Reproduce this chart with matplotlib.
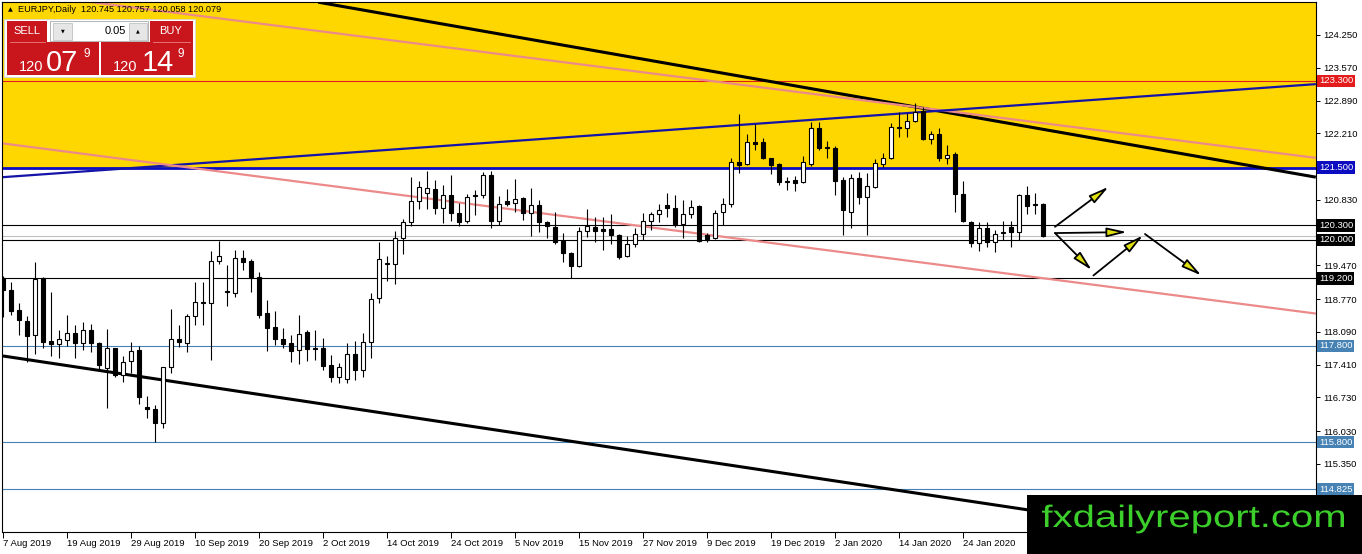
import numpy as np
import matplotlib
matplotlib.use("Agg")
import matplotlib.pyplot as plt
from matplotlib.patches import Rectangle, FancyArrowPatch, PathPatch
from matplotlib.textpath import TextPath
from matplotlib.font_manager import FontProperties
from matplotlib.transforms import Affine2D

plt.rcParams['font.family'] = ['Liberation Sans', 'DejaVu Sans']

# EURJPY daily bars, oldest first
opens = [119.21, 118.96, 118.55, 118.32, 118.03, 119.20, 117.90, 117.83, 117.92, 118.06,
         117.85, 118.12, 117.85, 117.35, 117.75, 117.20, 117.49, 117.71, 116.54, 116.49,
         116.19, 117.36, 117.94, 117.85, 118.42, 118.72, 118.68, 119.56, 118.94, 118.89,
         119.63, 119.56, 119.22, 118.49, 118.19, 117.94, 117.85, 117.71, 118.09, 117.76,
         117.76, 117.40, 117.15, 117.11, 117.63, 117.29, 117.87, 118.79, 119.49, 119.49,
         120.03, 120.36, 120.81, 120.97, 121.05, 120.65, 120.94, 120.55, 120.38, 120.93,
         120.93, 121.35, 120.40, 120.81, 120.76, 120.86, 120.55, 120.72, 120.36, 120.27,
         119.98, 119.72, 119.46, 120.18, 120.27, 120.22, 120.22, 120.10, 119.67, 119.91,
         120.12, 120.40, 120.53, 120.72, 120.67, 120.32, 120.53, 120.70, 120.09, 120.03,
         120.57, 120.74, 121.61, 121.57, 122.03, 122.03, 121.69, 121.57, 121.19, 121.24,
         121.19, 121.57, 122.31, 121.93, 121.91, 121.24, 120.58, 121.28, 120.88, 121.10,
         121.58, 121.69, 122.35, 122.33, 122.47, 122.67, 122.09, 122.19, 121.69, 121.79,
         120.96, 120.36, 119.93, 120.24, 119.96, 120.15, 120.27, 120.17, 120.92, 120.74,
         120.745]
highs = [119.25, 119.13, 118.68, 118.41, 119.55, 119.23, 118.92, 118.13, 118.44, 118.23,
         118.29, 118.25, 117.87, 118.14, 117.76, 117.58, 117.87, 117.80, 116.75, 116.57,
         117.37, 118.57, 118.23, 118.46, 119.13, 119.13, 119.77, 119.98, 119.48, 119.79,
         119.79, 119.60, 119.33, 118.75, 118.52, 118.17, 118.03, 118.44, 118.13, 118.13,
         117.96, 117.60, 117.45, 117.85, 117.90, 118.06, 118.90, 119.96, 119.67, 120.18,
         120.43, 121.30, 121.21, 121.43, 121.24, 121.14, 121.35, 120.77, 120.95, 121.03,
         121.40, 121.43, 120.91, 121.06, 121.26, 120.88, 121.08, 120.83, 120.39, 120.58,
         120.15, 119.75, 120.27, 120.64, 120.48, 120.48, 120.53, 120.13, 120.08, 120.24,
         120.55, 120.58, 120.74, 120.97, 120.93, 120.83, 120.83, 120.72, 120.14, 120.62,
         120.87, 121.69, 122.60, 122.19, 122.40, 122.12, 121.69, 121.59, 121.31, 121.33,
         121.74, 122.45, 122.44, 122.04, 121.95, 121.31, 121.36, 121.40, 121.38, 121.67,
         121.81, 122.42, 122.66, 122.63, 122.83, 122.76, 122.26, 122.33, 121.97, 121.82,
         121.22, 120.38, 120.36, 120.36, 120.20, 120.38, 120.38, 120.95, 121.12, 120.97,
         120.757]
lows = [118.40, 118.44, 118.03, 117.47, 117.64, 117.75, 117.58, 117.54, 117.80, 117.54,
        117.71, 117.68, 117.27, 116.52, 117.16, 117.06, 117.23, 116.59, 116.31, 115.81,
        116.09, 117.23, 117.77, 117.68, 118.23, 118.23, 117.51, 119.49, 118.63, 118.82,
        119.38, 118.91, 118.38, 117.69, 117.82, 117.75, 117.47, 117.42, 117.49, 117.51,
        117.29, 117.04, 117.02, 117.02, 117.09, 117.16, 117.54, 118.68, 119.15, 119.08,
        119.70, 120.29, 120.63, 120.63, 120.53, 120.34, 120.38, 120.29, 120.34, 120.51,
        120.86, 120.24, 120.31, 120.71, 120.58, 120.41, 120.08, 120.17, 120.03, 119.91,
        119.53, 119.20, 119.44, 120.06, 119.95, 119.79, 119.91, 119.60, 119.65, 119.86,
        119.99, 120.20, 120.36, 120.48, 120.27, 120.04, 120.45, 119.96, 119.95, 120.02,
        120.31, 120.69, 121.39, 121.55, 121.86, 121.67, 121.37, 121.14, 121.03, 121.02,
        121.17, 121.54, 121.86, 121.69, 120.93, 120.11, 120.24, 120.74, 120.11, 121.07,
        121.52, 121.68, 122.14, 122.14, 122.45, 122.07, 121.98, 121.64, 121.57, 120.58,
        120.36, 119.86, 119.77, 119.86, 119.74, 120.00, 119.86, 120.00, 120.53, 120.54,
        120.058]
closes = [118.96, 118.53, 118.33, 118.01, 119.18, 117.89, 117.83, 117.94, 118.06, 117.85,
          118.12, 117.85, 117.40, 117.75, 117.20, 117.47, 117.70, 116.73, 116.48, 116.19,
          117.36, 117.94, 117.87, 118.42, 118.70, 118.68, 119.56, 119.66, 118.91, 119.63,
          119.55, 119.22, 118.44, 118.18, 117.94, 117.84, 117.70, 118.04, 117.73, 117.73,
          117.39, 117.16, 117.36, 117.63, 117.29, 117.87, 118.77, 119.60, 119.51, 120.03,
          120.36, 120.81, 121.09, 121.07, 120.65, 120.94, 120.55, 120.36, 120.88, 120.90,
          121.35, 120.40, 120.74, 120.74, 120.85, 120.55, 120.72, 120.36, 120.29, 119.96,
          119.72, 119.46, 120.18, 120.29, 120.19, 120.19, 120.09, 119.65, 119.91, 120.12,
          120.40, 120.54, 120.61, 120.67, 120.32, 120.53, 120.69, 119.98, 120.02, 120.56,
          120.74, 121.62, 121.55, 122.02, 121.99, 121.69, 121.55, 121.19, 121.23, 121.17,
          121.61, 122.31, 121.90, 121.90, 121.23, 120.61, 121.28, 120.88, 121.12, 121.59,
          121.69, 122.35, 122.31, 122.47, 122.65, 122.09, 122.19, 121.69, 121.77, 120.96,
          120.38, 119.93, 120.24, 119.96, 120.13, 120.16, 120.17, 120.92, 120.71, 120.73,
          120.079]

date_labels = ["7 Aug 2019", "19 Aug 2019", "29 Aug 2019", "10 Sep 2019", "20 Sep 2019",
               "2 Oct 2019", "14 Oct 2019", "24 Oct 2019", "5 Nov 2019", "15 Nov 2019",
               "27 Nov 2019", "9 Dec 2019", "19 Dec 2019", "2 Jan 2020", "14 Jan 2020",
               "24 Jan 2020"]
bars_per_label = 8

price_ticks = [124.25, 123.57, 122.89, 122.21, 120.83, 119.47, 118.77, 118.09,
               117.41, 116.73, 116.03, 115.35]

# horizontal levels drawn on the chart
levels = [123.3, 121.5, 120.3, 120.0, 119.2, 117.8, 115.8, 114.825]
level_colors = ["#e41b1b", "#0c0cc0", "black", "black", "black", "#4682b4", "#4682b4", "#4682b4"]
level_widths = [0.8, 2.0, 0.8, 0.8, 0.8, 0.8, 0.8, 0.8]
bid = 120.079
zone_bottom = 121.5

# trend lines as (bar, price) end points
black_upper = [(39.4, 124.93), (164.1, 121.30)]
pink_upper = [(8.75, 124.98), (164.1, 121.70)]
blue_rising = [(0.0, 121.30), (164.1, 123.23)]
pink_lower = [(0.0, 122.00), (164.1, 118.47)]
black_lower = [(0.0, 117.59), (130.0, 114.35)]

# projected path arrows (bar, price) -> (bar, price)
arrows = [((131.5, 120.27), (138.2, 121.10)),
          ((131.5, 120.14), (140.5, 120.16)),
          ((131.5, 120.14), (136.1, 119.37)),
          ((136.3, 119.26), (142.5, 120.09)),
          ((142.75, 120.12), (149.8, 119.26))]

W, H = 1362, 554
fig = plt.figure(figsize=(W / 100, H / 100), dpi=100)
fig.patch.set_facecolor("white")
ax = fig.add_axes([2 / W, 22 / H, 1314 / W, 530 / H])
ax.set_xlim(-0.125, 164.125)
ax.set_ylim(113.938, 124.934)

ax.axhspan(zone_bottom, 130, color="#ffd700", zorder=0.5, lw=0)

for lv, c, w in zip(levels, level_colors, level_widths):
    ax.axhline(lv, color=c, lw=w, zorder=1)
ax.axhline(bid, color="#c0c0c0", lw=0.8, zorder=1)

for line, c, w in [(black_upper, "black", 2.2), (pink_upper, "#ec8a8a", 1.6),
                   (blue_rising, "#1414a8", 1.6), (pink_lower, "#ec8a8a", 1.6),
                   (black_lower, "black", 2.2)]:
    xs = [p[0] for p in line]
    ys = [p[1] for p in line]
    ax.plot(xs, ys, color=c, lw=w, zorder=2, solid_capstyle="butt")

x = np.arange(len(opens))
o = np.array(opens)
c = np.array(closes)
ax.vlines(x, lows, highs, color="black", lw=0.8, zorder=3)
up = c >= o
body_h = np.abs(c - o)
ax.bar(x, body_h, bottom=np.minimum(o, c), width=0.62,
       color=np.where(up, "white", "black"), edgecolor="black", lw=0.8, zorder=4)

for start, end in arrows:
    ax.add_patch(FancyArrowPatch(start, end, arrowstyle="-|>,head_length=1.2,head_width=0.28",
                                 mutation_scale=10, lw=1.3, fc="#e0e010", ec="black",
                                 zorder=5, shrinkA=0, shrinkB=0))

# axes, ticks
for s in ax.spines.values():
    s.set_color("black")
    s.set_linewidth(0.8)
ax.yaxis.tick_right()
ax.set_yticks(price_ticks)
ax.set_yticklabels([f"{t:.3f}" for t in price_ticks])
ax.tick_params(axis="y", direction="out", length=3, width=0.7, pad=2, labelsize=6.8)
ax.set_xticks(np.arange(len(date_labels)) * bars_per_label)
ax.set_xticklabels(date_labels)
ax.tick_params(axis="x", direction="out", length=4, width=0.7, pad=1, labelsize=6.8)
plt.setp(ax.get_xticklabels(), ha="left")

for lv, col in zip(levels, level_colors):
    txt = f"{lv:.3f}"
    ax.annotate(txt, xy=(1, lv), xycoords=("axes fraction", "data"), xytext=(3, 0),
                textcoords="offset pixels", va="center", ha="left", fontsize=6.8,
                color="white", annotation_clip=False, zorder=6,
                bbox=dict(boxstyle="square,pad=0.18", fc=col, ec="none"))

# overlay: header, one-click panel, watermark (pixel coordinates)
ov = fig.add_axes([0, 0, 1, 1], zorder=10)
ov.set_xlim(0, W)
ov.set_ylim(H, 0)
ov.axis("off")
ov.patch.set_alpha(0)

ov.text(8, 10, "\u25b2", fontsize=4.5, va="center", ha="left", family="DejaVu Sans")
ov.text(18, 10, "EURJPY,Daily  120.745 120.757 120.058 120.079", fontsize=6.6,
        va="center", ha="left")

red = "#c8161c"
ov.add_patch(Rectangle((4, 19), 191, 58, fc="white", ec="#d8d8d8", lw=0.6))
ov.add_patch(Rectangle((7, 21), 40, 21, fc=red, ec="none"))
ov.add_patch(Rectangle((7, 42), 92, 33, fc=red, ec="none"))
ov.add_patch(Rectangle((150, 21), 43, 21, fc=red, ec="none"))
ov.add_patch(Rectangle((101, 42), 92, 33, fc=red, ec="none"))
ov.plot([10, 45], [42, 42], color="#e88080", lw=0.6)
ov.plot([153, 190], [42, 42], color="#e88080", lw=0.6)
ov.add_patch(Rectangle((50, 21), 98, 20, fc="white", ec="#a8a8a8", lw=0.6))
ov.add_patch(Rectangle((53, 22.5), 19, 17, fc="#e6e6e6", ec="#b8b8b8", lw=0.5))
ov.add_patch(Rectangle((129, 22.5), 18, 17, fc="#e6e6e6", ec="#b8b8b8", lw=0.5))
ov.text(62.5, 31, "\u25bc", fontsize=3.5, ha="center", va="center", family="DejaVu Sans")
ov.text(138, 31, "\u25b2", fontsize=3.5, ha="center", va="center", family="DejaVu Sans")
ov.text(126, 31.5, "0.05", fontsize=8, ha="right", va="center", color="black")
ov.text(27, 31.5, "SELL", fontsize=8, ha="center", va="center", color="white")
ov.text(171, 31.5, "BUY", fontsize=8, ha="center", va="center", color="white")
ov.text(43, 71, "120", fontsize=10.5, ha="right", va="baseline", color="white")
ov.text(46, 71, "07", fontsize=21, ha="left", va="baseline", color="white")
ov.text(83, 57, "9", fontsize=8.5, ha="left", va="baseline", color="white")
ov.text(137, 71, "120", fontsize=10.5, ha="right", va="baseline", color="white")
ov.text(142, 71, "14", fontsize=21, ha="left", va="baseline", color="white")
ov.text(178, 57, "9", fontsize=8.5, ha="left", va="baseline", color="white")

ov.add_patch(Rectangle((1027, 495), W - 1027, H - 495, fc="black", ec="none"))
tp = TextPath((0, 0), "fxdailyreport.com", size=31, prop=FontProperties(family="Liberation Sans"))
ext = tp.get_extents()
sx = 302 / ext.width
tr = Affine2D().translate(-ext.x0, 0).scale(sx, -1).translate(1042, 527) + ov.transData
ov.add_patch(PathPatch(tp, fc="#3ccf2c", ec="none", transform=tr))

fig.savefig("out.png", dpi=100)
